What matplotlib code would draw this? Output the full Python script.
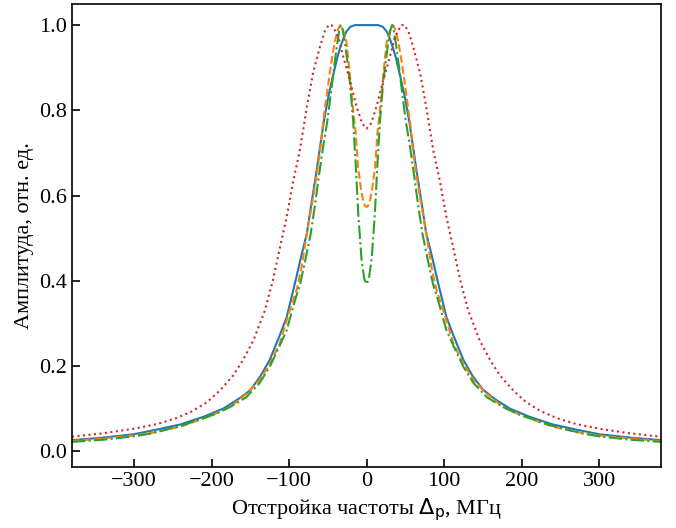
import matplotlib
matplotlib.use('Agg')
import matplotlib.pyplot as plt

plt.rcParams['font.family'] = ['Liberation Serif', 'DejaVu Serif']
plt.rcParams['font.size'] = 16

# detuning, MHz / amplitude, arb. units
x_blue = [-380, -340, -300, -270, -240, -210, -185, -165, -150, -137, -125, -112, -103, -97, -91, -84,
          -77, -71, -65, -60, -55, -49, -43, -38, -34, -30, -26, -21, -15, -8, 0,
          8, 15, 21, 26, 30, 34, 38, 43, 49, 55, 60, 65, 71, 77, 84, 91, 97, 103, 112, 125,
          137, 150, 165, 185, 210, 240, 270, 300, 340, 380]
y_blue = [0.026, 0.032, 0.040, 0.051, 0.063, 0.081, 0.100, 0.123, 0.143, 0.176, 0.214, 0.272, 0.315, 0.360, 0.405, 0.460,
          0.511, 0.583, 0.652, 0.714, 0.775, 0.835, 0.883, 0.922, 0.947, 0.968, 0.985, 0.996, 1.0, 1.0, 1.0,
          1.0, 1.0, 0.996, 0.985, 0.968, 0.947, 0.922, 0.883, 0.835, 0.775, 0.714, 0.652, 0.583, 0.511, 0.460, 0.405, 0.360, 0.315, 0.272, 0.214,
          0.176, 0.145, 0.123, 0.100, 0.081, 0.063, 0.051, 0.040, 0.032, 0.026]

x_orange = [-380, -340, -300, -271, -240, -224, -200, -176, -155, -138, -125, -112, -100, -90, -84, -77,
            -70, -64, -60, -56, -52, -46, -41, -37, -34, -31, -26, -21.5, -17, -14, -11, -7, -4, -2, 0,
            2, 4, 7, 11, 14, 17, 21.5, 26, 31, 34, 37, 41, 46, 52, 56, 60, 64, 70,
            77, 84, 90, 100, 112, 125, 138, 155, 176, 200, 224, 240, 271, 300, 340, 380]
y_orange = [0.024, 0.030, 0.037, 0.045, 0.058, 0.068, 0.084, 0.104, 0.135, 0.167, 0.205, 0.253, 0.325, 0.380, 0.430, 0.511,
            0.585, 0.652, 0.705, 0.773, 0.828, 0.906, 0.961, 0.990, 1.0, 0.993, 0.961, 0.883, 0.795, 0.745, 0.667, 0.612, 0.585, 0.576, 0.573,
            0.576, 0.585, 0.612, 0.667, 0.745, 0.795, 0.883, 0.961, 0.993, 1.0, 0.990, 0.961, 0.906, 0.828, 0.773, 0.705, 0.652, 0.585,
            0.511, 0.430, 0.380, 0.325, 0.253, 0.205, 0.167, 0.135, 0.104, 0.084, 0.068, 0.058, 0.045, 0.037, 0.030, 0.024]

x_green = [-380, -340, -300, -280, -237, -194, -175, -155, -138, -125, -114, -103, -96, -91, -86, -80,
           -72, -66, -61, -56, -50.4, -46, -42, -38, -35, -33, -31, -28, -24.5, -21.5, -17.3, -13.8, -10.8, -6.5, -3, 0,
           3, 6.5, 10.8, 13.8, 17.3, 21.5, 24.5, 28, 31, 33, 35, 38, 42, 46, 50.4, 56, 61, 66, 72,
           80, 86, 91, 96, 103, 114, 125, 138, 155, 175, 194, 237, 280, 300, 340, 380]
y_green = [0.022, 0.027, 0.035, 0.041, 0.061, 0.088, 0.105, 0.127, 0.160, 0.198, 0.240, 0.284, 0.330, 0.362, 0.390, 0.440,
           0.511, 0.585, 0.652, 0.715, 0.777, 0.840, 0.900, 0.955, 0.990, 1.0, 0.990, 0.961, 0.910, 0.867, 0.775, 0.667, 0.560, 0.450, 0.405, 0.392,
           0.405, 0.450, 0.560, 0.667, 0.775, 0.867, 0.910, 0.961, 0.990, 1.0, 0.990, 0.955, 0.900, 0.840, 0.777, 0.715, 0.652, 0.585, 0.511,
           0.440, 0.390, 0.362, 0.330, 0.284, 0.240, 0.198, 0.160, 0.127, 0.105, 0.088, 0.061, 0.041, 0.035, 0.027, 0.022]

x_red = [-380, -340, -300, -270, -245, -225, -206, -190, -172, -160, -146, -131, -121, -112, -103,
         -95, -86, -77, -69, -60, -54, -49, -45, -40, -36, -30, -21.5, -13, -6, 0,
         6, 13, 21.5, 30, 36, 40, 45, 49, 54, 60, 69, 77, 86, 95, 103, 112, 121,
         131, 146, 160, 172, 190, 206, 225, 245, 270, 300, 340, 380]
y_red = [0.034, 0.042, 0.053, 0.064, 0.078, 0.094, 0.115, 0.141, 0.178, 0.212, 0.260, 0.331, 0.400, 0.476, 0.550,
         0.630, 0.707, 0.808, 0.888, 0.950, 0.985, 1.0, 1.0, 0.985, 0.969, 0.925, 0.870, 0.810, 0.770, 0.757,
         0.770, 0.810, 0.870, 0.925, 0.969, 0.985, 1.0, 1.0, 0.985, 0.950, 0.888, 0.808, 0.707, 0.630, 0.550, 0.476, 0.400,
         0.331, 0.260, 0.212, 0.178, 0.141, 0.115, 0.094, 0.078, 0.064, 0.053, 0.042, 0.034]

x_ticks = [-300, -200, -100, 0, 100, 200, 300]
y_ticks = [0.0, 0.2, 0.4, 0.6, 0.8, 1.0]


def main():
    fig = plt.figure(figsize=(6.76, 5.28), dpi=100)
    ax = fig.add_axes([0.1065, 0.1155, 0.8715, 0.8765])

    ax.plot(x_blue, y_blue, color='C0', linestyle='-', lw=1.5)
    ax.plot(x_orange, y_orange, color='C1', linestyle='--', lw=1.5)
    ax.plot(x_green, y_green, color='C2', linestyle='-.', lw=1.5)
    ax.plot(x_red, y_red, color='C3', linestyle=':', lw=1.5)

    ax.set_xlim(-380, 380)
    ax.set_ylim(-0.037, 1.049)
    ax.set_xticks(x_ticks)
    ax.set_yticks(y_ticks)
    ax.tick_params(direction='in', length=6, width=1.2, labelsize=16)
    for spine in ax.spines.values():
        spine.set_linewidth(1.2)

    ax.set_xlabel(r'Отстройка частоты $\Delta_\mathrm{p}$, МГц', fontsize=16)
    ax.set_ylabel('Амплитуда, отн. ед.', fontsize=16)

    fig.savefig('out.png', dpi=100)


if __name__ == "__main__":
    main()
